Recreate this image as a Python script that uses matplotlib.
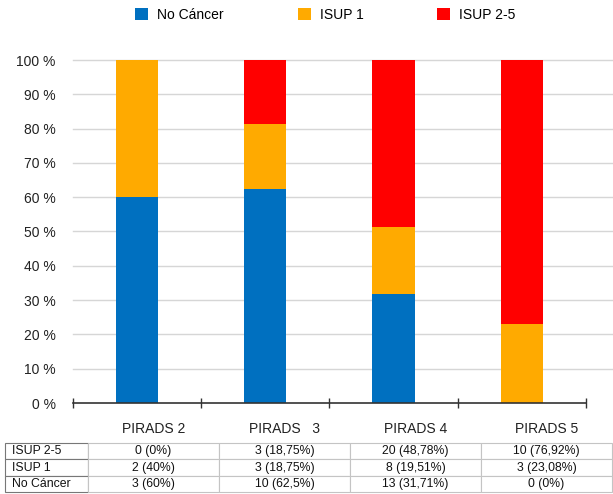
import matplotlib
matplotlib.use("Agg")
import matplotlib.pyplot as plt
from matplotlib.lines import Line2D

plt.rcParams["font.family"] = ["Liberation Sans", "DejaVu Sans"]

categories = ["PIRADS 2", "PIRADS   3", "PIRADS 4", "PIRADS 5"]
series_names = ["No Cáncer", "ISUP 1", "ISUP 2-5"]
colors = ["#0070C0", "#FFAA00", "#FF0000"]

no_cancer_n = [3, 10, 13, 0]
isup1_n = [2, 3, 8, 3]
isup25_n = [0, 3, 20, 10]

no_cancer_pct = [60, 62.5, 31.71, 0]
isup1_pct = [40, 18.75, 19.51, 23.08]
isup25_pct = [0, 18.75, 48.78, 76.92]

y_ticks = [0, 10, 20, 30, 40, 50, 60, 70, 80, 90, 100]


def fmt_pct(p):
    s = f"{p:.2f}".rstrip("0").rstrip(".")
    return s.replace(".", ",") + "%"


W, H = 613, 494
fig = plt.figure(figsize=(W / 100, H / 100), dpi=100)

ax_left, ax_right, ax_top, ax_bottom = 72.5, 586, 60, 403
ax = fig.add_axes([ax_left / W, 1 - ax_bottom / H,
                   (ax_right - ax_left) / W, (ax_bottom - ax_top) / H])
px_per_cat = (ax_right - ax_left) / 4

x = list(range(len(categories)))
bar_w = 0.33
bottoms = [0] * len(categories)
handles = []
for name, vals, c in zip(series_names, [no_cancer_pct, isup1_pct, isup25_pct], colors):
    b = ax.bar(x, vals, bar_w, bottom=bottoms, color=c, label=name, zorder=3)
    handles.append(b)
    bottoms = [bt + v for bt, v in zip(bottoms, vals)]

ax.set_xlim(-0.5, 3.5)
ax.set_ylim(0, 100)
ax.set_yticks(y_ticks)
ax.set_yticklabels([f"{t} %" for t in y_ticks], fontsize=10, color="#222222")
ax.tick_params(axis="y", length=0, pad=12)

# gridlines run across the full chart width
for t in y_ticks[1:]:
    ax.add_line(Line2D([-0.5, 3.5 + (W - ax_right) / px_per_cat], [t, t],
                       color="#d6d6d6", lw=1, zorder=1, clip_on=False))

# data table geometry (pixels)
t_left, t_right, t_top, t_bottom = 5, 612, 443, 492
first_w = 83
col_w = (t_right - t_left - first_w) / 4
col_centers_px = [t_left + first_w + col_w * (i + 0.5) for i in range(4)]

ax.set_xticks([-0.5, 0.5, 1.5, 2.5, 3.5])
ax.set_xticklabels([])
# category names sit above the matching table columns
ax.set_xticks([-0.5 + (p - ax_left) / px_per_cat for p in col_centers_px], minor=True)
ax.set_xticklabels(categories, minor=True, fontsize=10, color="#222222")
ax.tick_params(axis="x", which="major", direction="inout", length=7, width=1, color="#333333")
ax.tick_params(axis="x", which="minor", length=0, pad=14)

for s in ["top", "right", "left"]:
    ax.spines[s].set_visible(False)
ax.spines["bottom"].set_color("#333333")
ax.spines["bottom"].set_linewidth(1.2)
ax.spines["bottom"].set_zorder(4)

fig.legend(handles=handles, labels=series_names, loc="center",
           bbox_to_anchor=(0.5 + 19 / W, 1 - 15 / H), ncol=3, frameon=False,
           fontsize=10, handlelength=0.95, handleheight=0.95,
           handletextpad=0.65, columnspacing=5.3)

tax = fig.add_axes([t_left / W, 1 - t_bottom / H, (t_right - t_left) / W, (t_bottom - t_top) / H])
tax.axis("off")
rows = [
    ("ISUP 2-5", isup25_n, isup25_pct),
    ("ISUP 1", isup1_n, isup1_pct),
    ("No Cáncer", no_cancer_n, no_cancer_pct),
]
cell_text = [[name] + [f"{n} ({fmt_pct(p)})" for n, p in zip(ns, ps)] for name, ns, ps in rows]
tw = t_right - t_left
col_widths = [first_w / tw] + [col_w / tw] * 4
tbl = tax.table(cellText=cell_text, colWidths=col_widths, bbox=[0, 0, 1, 1],
                cellLoc="center")
tbl.auto_set_font_size(False)
for (r, c), cell in tbl.get_celld().items():
    cell.set_fontsize(8.8)
    cell.set_linewidth(0.8)
    cell.get_text().set_color("#111111")
    if c == 0:
        cell.set_edgecolor("#777777")
        cell.get_text().set_ha("left")
        cell.PAD = 0.09
    else:
        cell.set_edgecolor("#c4c4c4")

fig.savefig("out.png", dpi=100)
